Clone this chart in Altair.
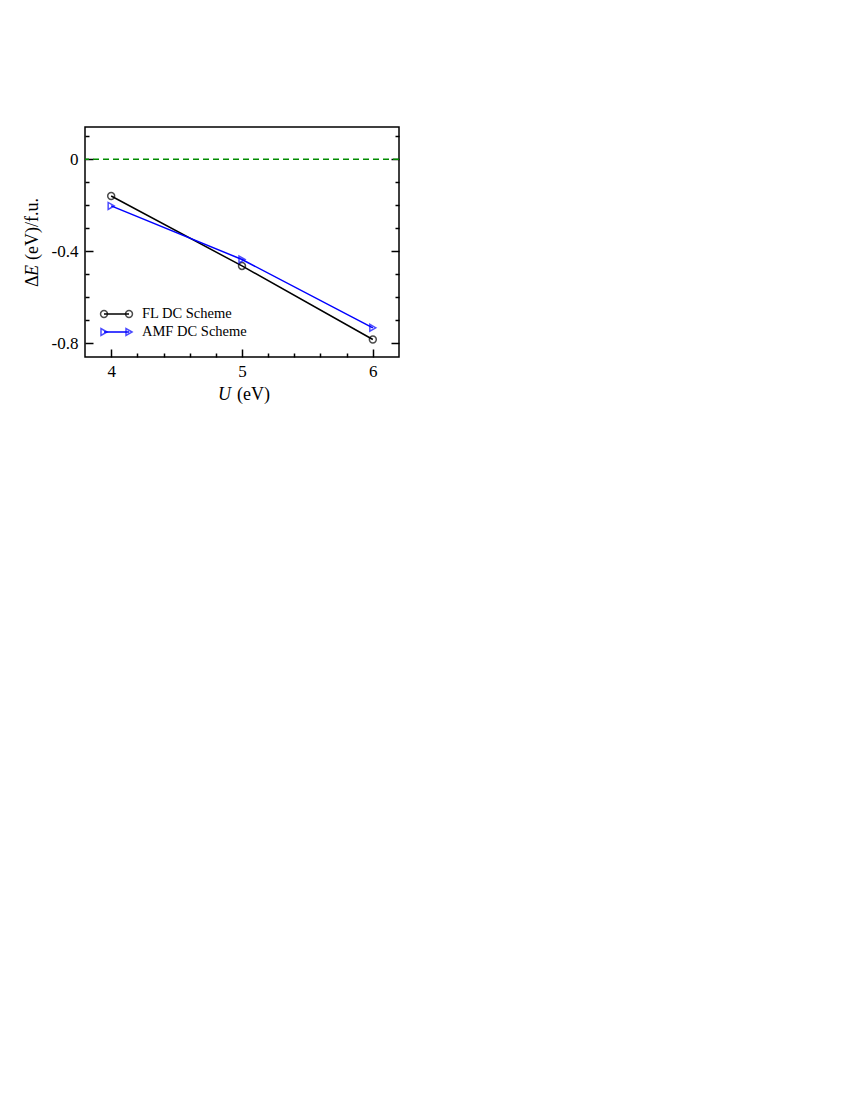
import altair as alt
import pandas as pd

# ---- data ----
u_values = [4, 5, 6]
fl_values = [-0.160, -0.464, -0.784]
amf_values = [-0.203, -0.436, -0.733]
series_names = ["FL DC Scheme", "AMF DC Scheme"]
series_colors = ["#000000", "#0000ff"]
zero_level = [0.0]

x_major = [4, 5, 6]
x_minor = [4.2, 4.4, 4.6, 4.8, 5.2, 5.4, 5.6, 5.8]
y_major = [0.0, -0.4, -0.8]
y_minor = [0.1, -0.1, -0.2, -0.3, -0.5, -0.6, -0.7]

FONT = "Liberation Serif"
W, H = 314, 230

df = pd.DataFrame({
    "U": u_values * 2,
    "dE": fl_values + amf_values,
    "series": [series_names[0]] * 3 + [series_names[1]] * 3,
})
df_fl = df[df.series == series_names[0]]
df_amf = df[df.series == series_names[1]]
df_zero = pd.DataFrame({"dE": zero_level})

xs = alt.Scale(domain=[3.8, 6.2], nice=False, zero=False)
ys = alt.Scale(domain=[-0.86, 0.14], nice=False, zero=False)
cs = alt.Scale(domain=series_names, range=series_colors)


def ax(orient, values, size, labels=False, **kw):
    return alt.Axis(orient=orient, values=values, tickSize=size, offset=-size,
                    domain=False, grid=False, title=None, labels=labels,
                    tickColor="black", tickWidth=1.5, **kw)


x_lab_axis = ax("bottom", x_major, 8, labels=True, format="d", labelPadding=6,
                labelFontSize=17, labelFont=FONT, labelColor="black")
y_lab_axis = ax("left", y_major, 8, labels=True, labelPadding=7,
                labelFontSize=17, labelFont=FONT, labelColor="black",
                labelExpr="datum.value == 0 ? '0' : '-' + format(abs(datum.value), '.1f')")

lines = alt.Chart(df).mark_line(strokeWidth=1.5).encode(
    x=alt.X("U:Q", scale=xs, axis=x_lab_axis),
    y=alt.Y("dE:Q", scale=ys, axis=y_lab_axis),
    color=alt.Color("series:N", scale=cs, legend=None),
    detail="series:N",
)

pts_fl = alt.Chart(df_fl).mark_point(shape="circle", filled=False, size=48,
                                     strokeWidth=1.5, color="#000000").encode(
    x=alt.X("U:Q", scale=xs, axis=ax("bottom", x_minor, 4)),
    y=alt.Y("dE:Q", scale=ys, axis=ax("left", y_minor, 4)),
)

pts_amf = alt.Chart(df_amf).mark_point(shape="triangle-right", filled=False, size=48,
                                       strokeWidth=1.5, color="#0000ff").encode(
    x=alt.X("U:Q", scale=xs, axis=None),
    y=alt.Y("dE:Q", scale=ys, axis=ax("right", y_major, 8)),
)

zero_rule = alt.Chart(df_zero).mark_rule(color="#008b00", strokeWidth=1.5,
                                         strokeDash=[6, 4]).encode(
    y=alt.Y("dE:Q", scale=ys, axis=ax("right", y_minor, 4)),
)

# ---- legend (inside plot) ----
leg_layers = []
leg_rows = [(187, series_names[0], series_colors[0], "circle"),
            (205, series_names[1], series_colors[1], "triangle-right")]
for i, (yy, name, col, shp) in enumerate(leg_rows):
    ldf = pd.DataFrame({"name": [name]})
    base = alt.Chart(ldf)
    leg_layers.append(base.mark_rule(color=col, strokeWidth=1.5).encode(
        x=alt.value(19), x2=alt.value(44), y=alt.value(yy)))
    for xx in (19, 44):
        leg_layers.append(base.mark_point(shape=shp, filled=False, size=48,
                                          strokeWidth=1.5, color=col).encode(
            x=alt.value(xx), y=alt.value(yy)))
    leg_layers.append(base.mark_text(align="left", baseline="middle", font=FONT,
                                     fontSize=14.5, color="black").encode(
        x=alt.value(57), y=alt.value(yy), text="name:N"))

# ---- axis titles (mixed italic) ----
tdf = pd.DataFrame({"t": [0]})
tb = alt.Chart(tdf)
title_layers = [
    tb.mark_text(text="Δ", angle=270, align="left", baseline="middle", font=FONT,
                 fontSize=18, color="black").encode(x=alt.value(-52), y=alt.value(160)),
    tb.mark_text(text="E", angle=270, align="left", baseline="middle", font=FONT,
                 fontSize=18, fontStyle="italic", color="black").encode(x=alt.value(-52), y=alt.value(149)),
    tb.mark_text(text="(eV)/f.u.", angle=270, align="left", baseline="middle", font=FONT,
                 fontSize=18, color="black").encode(x=alt.value(-52), y=alt.value(133)),
    tb.mark_text(text="U", align="left", baseline="alphabetic", font=FONT,
                 fontSize=18, fontStyle="italic", color="black").encode(x=alt.value(133), y=alt.value(273)),
    tb.mark_text(text="(eV)", align="left", baseline="alphabetic", font=FONT,
                 fontSize=18, color="black").encode(x=alt.value(152), y=alt.value(273)),
]

chart = alt.layer(
    zero_rule, lines, pts_fl, pts_amf, *leg_layers, *title_layers
).resolve_axis(
    x="independent", y="independent"
).properties(
    width=W, height=H,
    autosize=alt.AutoSizeParams(type="none"),
    padding={"left": 77, "top": 119, "right": 20, "bottom": 60},
).configure_view(
    stroke="black", strokeWidth=1.5
).configure_axis(
    labelFont=FONT
)

chart.save("out.html", embed_options={"renderer": "svg", "actions": False})
